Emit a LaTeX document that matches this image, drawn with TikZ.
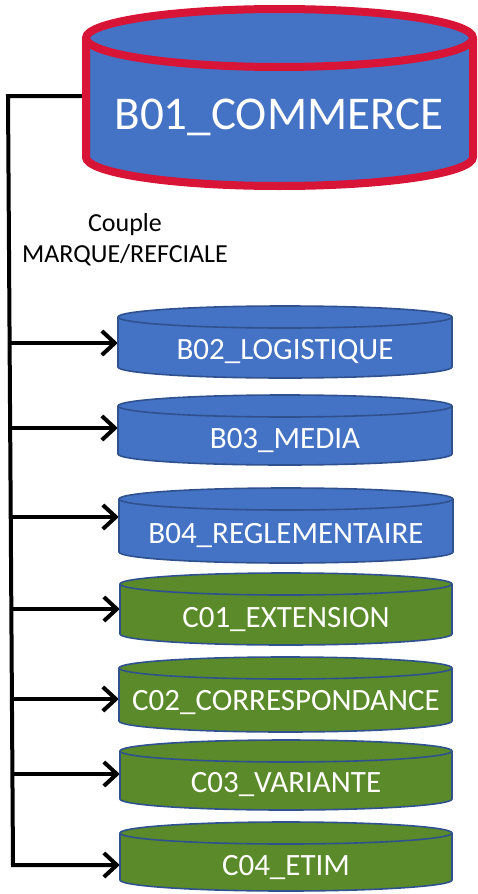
\documentclass[tikz,border=0pt]{standalone}
\usepackage{fontspec}
\setmainfont{Carlito}
\usetikzlibrary{arrows.meta,backgrounds}
\definecolor{dbblue}{HTML}{4472C4}
\definecolor{dbedge}{HTML}{2F528F}
\definecolor{dbgreen}{HTML}{5A8A29}
\definecolor{dbred}{HTML}{D81437}
\tikzset{
  bigcyl/.style={fill=dbblue,draw=dbred,line width=8pt},
  bluecyl/.style={fill=dbblue,draw=dbedge,line width=1.6pt},
  greencyl/.style={fill=dbgreen,draw=dbedge,line width=1.6pt},
  cylnode/.style={rectangle,inner sep=0pt,draw=none},
  biglbl/.style={text=white,font=\fontsize{47}{56}\selectfont,anchor=base,inner sep=0pt},
  lbl/.style={text=white,font=\fontsize{31}{37}\selectfont,anchor=base,inner sep=0pt},
  note/.style={text=black,font=\fontsize{26}{31}\selectfont,align=center,inner sep=0pt},
  conn/.style={line width=4pt,draw=black,line join=miter},
  arr/.style={conn,-{Straight Barb[length=13pt,width=24pt]}}
}
% name, x-left, x-right, top, bottom, ry, style
\newcommand\dbcyl[7]{%
  \pgfmathsetmacro\cylRx{((#3)-(#2))/2}%
  \pgfmathsetmacro\cylW{(#3)-(#2)}%
  \pgfmathsetmacro\cylCx{((#2)+(#3))/2}%
  \pgfmathsetmacro\cylYa{-(#4)-(#6)}%
  \pgfmathsetmacro\cylYb{-(#5)+(#6)}%
  \pgfmathsetmacro\cylCy{-((#4)+(#5))/2}%
  \pgfmathsetmacro\cylH{(#5)-(#4)}%
  \path[#7] (#2,\cylYa) -- (#2,\cylYb)
     arc[start angle=180,end angle=360,x radius=\cylRx pt,y radius=#6pt]
     -- (#3,\cylYa)
     arc[start angle=0,end angle=180,x radius=\cylRx pt,y radius=#6pt] -- cycle;
  \path[#7,fill=none] (#2,\cylYa)
     arc[start angle=180,end angle=360,x radius=\cylRx pt,y radius=#6pt];
  \node[cylnode,minimum width=\cylW pt,minimum height=\cylH pt] (#1) at (\cylCx,\cylCy) {};
}
\begin{document}
\begin{tikzpicture}[x=1pt,y=1pt]
\useasboundingbox (0,0) rectangle (477,-894);
\dbcyl{b01}{86}{473}{9}{186}{29}{bigcyl}
\dbcyl{b02}{118}{452}{306}{378}{11}{bluecyl}
\dbcyl{b03}{118}{452}{395}{465}{11}{bluecyl}
\dbcyl{b04}{119}{453}{488}{563}{11}{bluecyl}
\dbcyl{c01}{120}{452}{573}{645}{11}{greencyl}
\dbcyl{c02}{119}{452}{657}{732}{11}{greencyl}
\dbcyl{c03}{120}{452}{740}{810}{11}{greencyl}
\dbcyl{c04}{120}{452}{822}{891}{11}{greencyl}

\node[biglbl] (b01t) at (279,-129) {B01\_COMMERCE};
\node[lbl] (b02t) at (285,-359) {B02\_LOGISTIQUE};
\node[lbl] (b03t) at (285,-448) {B03\_MEDIA};
\node[lbl] (b04t) at (286,-543) {B04\_REGLEMENTAIRE};
\node[lbl] (c01t) at (286,-627) {C01\_EXTENSION};
\node[lbl] (c02t) at (286,-710) {C02\_CORRESPONDANCE};
\node[lbl] (c03t) at (286,-792) {C03\_VARIANTE};
\node[lbl] (c04t) at (286,-875) {C04\_ETIM};

\node[note] (couple) at (125,-240) {Couple\\MARQUE/REFCIALE};

\coordinate (ctop) at (8,-96);
\coordinate (cbot) at (13,-865);
\coordinate (s2) at (9.6,-343);
\coordinate (s3) at (10.2,-428);
\coordinate (s4) at (10.7,-517);
\coordinate (s5) at (11.3,-609);
\coordinate (s6) at (11.9,-699);
\coordinate (s7) at (12.4,-774);

\begin{scope}[on background layer]
\draw[arr] (ctop -| b01.west) -- (ctop) -- (cbot) -- (cbot -| c04.west);
\draw[arr] (s2) -- (s2 -| b02.west);
\draw[arr] (s3) -- (s3 -| b03.west);
\draw[arr] (s4) -- (s4 -| b04.west);
\draw[arr] (s5) -- (s5 -| c01.west);
\draw[arr] (s6) -- (s6 -| c02.west);
\draw[arr] (s7) -- (s7 -| c03.west);
\end{scope}
\end{tikzpicture}
\end{document}
